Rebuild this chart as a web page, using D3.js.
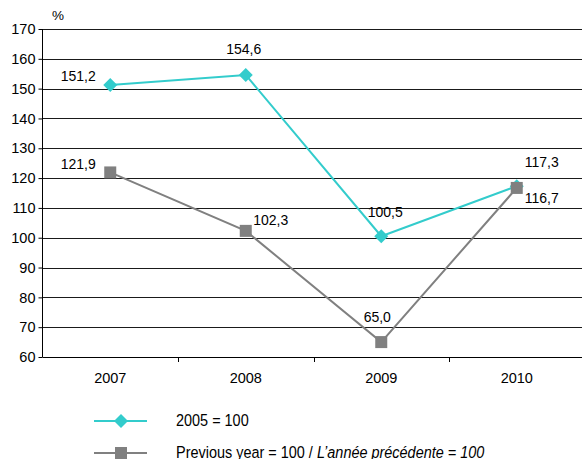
<!DOCTYPE html>
<html lang="en">
<head>
    <meta charset="UTF-8">
    <title>Index chart</title>
    <script src="https://d3js.org/d3.v7.min.js"></script>
    <style>
        body { margin: 0; background: #fff; }
        text { font-family: "Liberation Sans", Arial, sans-serif; fill: #000; }
    </style>
</head>
<body>
    <div id="chart"></div>

    <script>
        // data
        var years = ["2007", "2008", "2009", "2010"];
        var base2005 = [151.2, 154.6, 100.5, 117.3];
        var prevYear = [121.9, 102.3, 65.0, 116.7];
        var yTicks = [60, 70, 80, 90, 100, 110, 120, 130, 140, 150, 160, 170];

        // label offsets (dx, dy) relative to each point
        var offA = [[-32, -4], [-2, -21], [4, -19], [25, -19]];
        var offB = [[-32, -3], [25, -6], [-4, -20], [25, 15]];

        var w = 582;
        var h = 459;
        var mLeft = 42.5, mRight = 584.5, mTop = 29, mBottom = 357;

        var svg = d3.select("#chart").append("svg")
            .attr("width", w)
            .attr("height", h);

        var xScale = d3.scaleBand()
            .domain(years)
            .range([mLeft, mRight]);

        var yScale = d3.scaleLinear()
            .domain([60, 170])
            .range([mBottom, mTop]);

        function cx(i) { return xScale(years[i]) + xScale.bandwidth() / 2; }

        // gridlines
        svg.append("g")
            .selectAll("line")
            .data(yTicks.slice(1))
            .enter()
            .append("line")
            .attr("x1", mLeft)
            .attr("x2", w)
            .attr("y1", function(d) { return Math.round(yScale(d)) + 0.5; })
            .attr("y2", function(d) { return Math.round(yScale(d)) + 0.5; })
            .attr("stroke", "#1a1a1a")
            .attr("stroke-width", 1);

        // y axis
        var yAxis = svg.append("g")
            .attr("transform", "translate(" + mLeft + ",0)")
            .call(d3.axisLeft(yScale).tickValues(yTicks).tickSize(4).tickPadding(3));
        yAxis.select(".domain").attr("stroke", "#000").attr("d", "M0," + mTop + "V" + mBottom);
        yAxis.selectAll("line").attr("stroke", "#000");
        yAxis.selectAll("text").style("font-size", "14.5px")
            .attr("font-family", "Liberation Sans, Arial, sans-serif");

        // x axis
        var xAxis = svg.append("g")
            .attr("transform", "translate(0," + (Math.round(mBottom) + 0.5) + ")")
            .call(d3.axisBottom(xScale).tickSize(0).tickPadding(15));
        xAxis.select(".domain").attr("stroke", "#000").attr("d", "M" + mLeft + ",0H" + w);
        xAxis.selectAll("text").style("font-size", "14.5px")
            .attr("font-family", "Liberation Sans, Arial, sans-serif");

        // x ticks at category boundaries
        svg.append("g")
            .selectAll("line")
            .data(years.slice(1))
            .enter()
            .append("line")
            .attr("x1", function(d) { return Math.round(xScale(d)) + 0.5; })
            .attr("x2", function(d) { return Math.round(xScale(d)) + 0.5; })
            .attr("y1", mBottom)
            .attr("y2", mBottom + 5)
            .attr("stroke", "#000");

        svg.append("text")
            .attr("x", 52)
            .attr("y", 20)
            .style("font-size", "13.5px")
            .text("%");

        var line = d3.line()
            .x(function(d, i) { return cx(i); })
            .y(function(d) { return yScale(d); });

        var teal = "#33CCCC";
        var grey = "#808080";
        var diamond = "M0,-7L7,0L0,7L-7,0Z";

        // 2005 = 100 series
        svg.append("path")
            .datum(base2005)
            .attr("d", line)
            .attr("fill", "none")
            .attr("stroke", teal)
            .attr("stroke-width", 2);

        svg.append("g")
            .selectAll("path")
            .data(base2005)
            .enter()
            .append("path")
            .attr("d", diamond)
            .attr("transform", function(d, i) { return "translate(" + cx(i) + "," + yScale(d) + ")"; })
            .attr("fill", teal);

        // previous year series (drawn on top)
        svg.append("path")
            .datum(prevYear)
            .attr("d", line)
            .attr("fill", "none")
            .attr("stroke", grey)
            .attr("stroke-width", 2);

        svg.append("g")
            .selectAll("rect")
            .data(prevYear)
            .enter()
            .append("rect")
            .attr("x", function(d, i) { return cx(i) - 6; })
            .attr("y", function(d) { return yScale(d) - 6; })
            .attr("width", 12)
            .attr("height", 12)
            .attr("fill", grey);

        function fmt(v) { return v.toFixed(1).replace(".", ","); }

        function labels(values, offs) {
            svg.append("g")
                .selectAll("text")
                .data(values)
                .enter()
                .append("text")
                .attr("x", function(d, i) { return cx(i) + offs[i][0]; })
                .attr("y", function(d, i) { return yScale(d) + offs[i][1]; })
                .attr("text-anchor", "middle")
                .style("font-size", "14px")
                .text(fmt);
        }
        labels(base2005, offA);
        labels(prevYear, offB);

        // legend (narrow type, squeezed horizontally)
        var legend = svg.append("g").attr("class", "legend");

        var l1 = legend.append("g").attr("transform", "translate(0,421)");
        l1.append("line").attr("x1", 94).attr("x2", 147).attr("stroke", teal).attr("stroke-width", 2);
        l1.append("path").attr("d", diamond).attr("transform", "translate(121,0)").attr("fill", teal);
        l1.append("text").attr("transform", "translate(176,5) scale(0.85,1)")
            .style("font-size", "17px").text("2005 = 100");

        var l2 = legend.append("g").attr("transform", "translate(0,453)");
        l2.append("line").attr("x1", 94).attr("x2", 147).attr("stroke", grey).attr("stroke-width", 2);
        l2.append("rect").attr("x", 115).attr("y", -6).attr("width", 12).attr("height", 12).attr("fill", grey);
        var t2 = l2.append("text").attr("transform", "translate(176,5) scale(0.85,1)")
            .style("font-size", "17px");
        t2.append("tspan").text("Previous year = 100 / ");
        t2.append("tspan").style("font-style", "italic").text("L\u2019ann\u00e9e pr\u00e9c\u00e9dente = 100");
    </script>
</body>
</html>
